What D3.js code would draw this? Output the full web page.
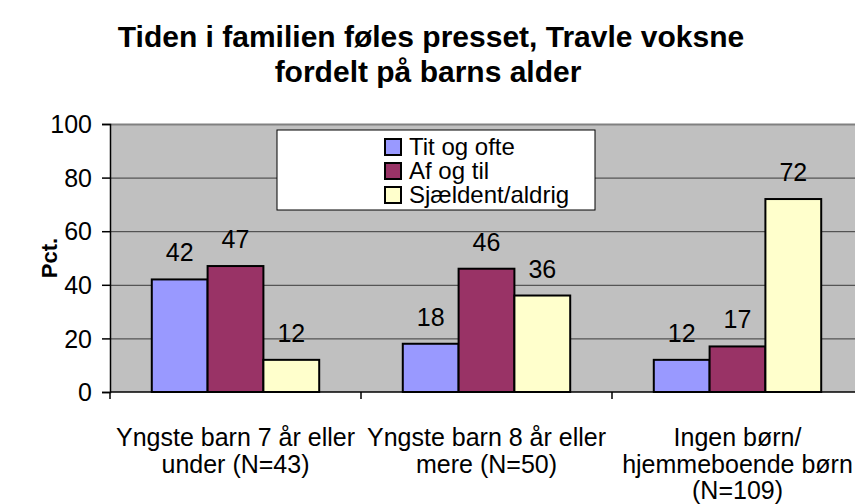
<!DOCTYPE html>
<html>
<head>
<meta charset="utf-8">
<script src="https://cdn.jsdelivr.net/npm/d3@7"></script>
<style>
  body { margin: 0; background: #fff; }
  svg { display: block; font-family: "Liberation Sans", Arial, sans-serif; }
</style>
</head>
<body>
<svg id="chart" width="855" height="504"></svg>
<script>
// chart data
const categories = [
  ["Yngste barn 7 år eller", "under (N=43)"],
  ["Yngste barn 8 år eller", "mere (N=50)"],
  ["Ingen børn/", "hjemmeboende børn", "(N=109)"]
]
const seriesNames = ["Tit og ofte", "Af og til", "Sjældent/aldrig"]
const titOgOfte = [42, 18, 12]
const afOgTil = [47, 46, 17]
const sjaeldent = [12, 36, 72]
const yTicks = [0, 20, 40, 60, 80, 100]
const colors = ["#9999ff", "#993366", "#ffffcc"]

const series = [titOgOfte, afOgTil, sjaeldent]

const margin = {top: 124, left: 110}
const plotW = 753   // runs past the right edge like the original
const plotH = 268

const svg = d3.select('#chart')

// title
const title = svg.append('g')
    .attr('font-weight', 'bold')
    .attr('font-size', 30)
    .attr('text-anchor', 'middle')
title.append('text').attr('x', 431).attr('y', 47).text("Tiden i familien føles presset, Travle voksne")
title.append('text').attr('x', 428).attr('y', 82).text("fordelt på barns alder")

const g = svg.append('g').attr('transform', 'translate(' + margin.left + ',' + margin.top + ')')

const x0 = d3.scaleBand()
    .domain(d3.range(categories.length))
    .range([0, plotW])

const x1 = d3.scaleBand()
    .domain(d3.range(series.length))
    .range([0, x0.bandwidth() * 0.667])

const y = d3.scaleLinear()
    .domain([0, 100])
    .range([plotH, 0])

// plot area
g.append('rect')
    .attr('width', plotW)
    .attr('height', plotH)
    .attr('fill', '#c0c0c0')

// gridlines
g.append('g')
    .selectAll('line')
    .data(yTicks.slice(1))
    .join('line')
    .attr('x1', 0)
    .attr('x2', plotW)
    .attr('y1', d => y(d) + 0.5)
    .attr('y2', d => y(d) + 0.5)
    .attr('stroke', d => d === 100 ? '#808080' : '#3a3a3a')
    .attr('stroke-width', d => d === 100 ? 2 : 1)

// bars
const groupOffset = (x0.bandwidth() - x1.range()[1]) / 2
series.forEach((vals, si) => {
    g.append('g')
        .selectAll('rect')
        .data(vals)
        .join('rect')
        .attr('x', (d, i) => x0(i) + groupOffset + x1(si))
        .attr('y', d => y(d))
        .attr('width', x1.bandwidth())
        .attr('height', d => y(0) - y(d))
        .attr('fill', colors[si])
        .attr('stroke', '#000')
        .attr('stroke-width', 2)

    g.append('g')
        .selectAll('text')
        .data(vals)
        .join('text')
        .attr('x', (d, i) => x0(i) + groupOffset + x1(si) + x1.bandwidth() / 2)
        .attr('y', d => y(d) - 18)
        .attr('text-anchor', 'middle')
        .attr('font-size', 25)
        .attr('fill', '#000')
        .text(d => d)
})

// y axis
const yAxis = g.append('g')
    .call(d3.axisLeft(y).tickValues(yTicks).tickSize(8).tickPadding(10))
yAxis.select('.domain').attr('stroke', '#000').attr('stroke-width', 1.5)
yAxis.selectAll('.tick line').attr('stroke', '#000').attr('stroke-width', 1.5)
yAxis.selectAll('.tick text')
    .attr('font-size', 25)
    .attr('font-family', '"Liberation Sans", Arial, sans-serif')
    .attr('fill', '#000')
    .attr('dy', '0.35em')

// x axis with ticks between categories
const xAxis = g.append('g')
    .attr('transform', 'translate(0,' + plotH + ')')
xAxis.append('line')
    .attr('x1', 0).attr('x2', plotW)
    .attr('stroke', '#000').attr('stroke-width', 1.5)
xAxis.selectAll('.sep')
    .data(d3.range(categories.length + 1))
    .join('line')
    .attr('class', 'sep')
    .attr('x1', i => i * x0.step())
    .attr('x2', i => i * x0.step())
    .attr('y1', 0).attr('y2', 7)
    .attr('stroke', '#000').attr('stroke-width', 1.5)

// category labels
const labels = xAxis.selectAll('.cat')
    .data(categories)
    .join('text')
    .attr('class', 'cat')
    .attr('text-anchor', 'middle')
    .attr('font-size', 25)
    .attr('fill', '#000')
    .attr('transform', (d, i) => 'translate(' + (x0(i) + x0.bandwidth() / 2) + ',54)')
labels.selectAll('tspan')
    .data(d => d)
    .join('tspan')
    .attr('x', 0)
    .attr('y', (d, i) => i * 26.5)
    .text(d => d)

// y axis label
svg.append('text')
    .attr('transform', 'translate(57,258) rotate(-90)')
    .attr('text-anchor', 'middle')
    .attr('font-weight', 'bold')
    .attr('font-size', 22)
    .text("Pct.")

// legend
const legend = svg.append('g').attr('transform', 'translate(277,130)')
legend.append('rect')
    .attr('width', 318)
    .attr('height', 80)
    .attr('fill', '#fff')
    .attr('stroke', '#000')
    .attr('stroke-width', 1)
const items = legend.selectAll('.item')
    .data(seriesNames)
    .join('g')
    .attr('class', 'item')
    .attr('transform', (d, i) => 'translate(108,' + (17 + i * 24) + ')')
items.append('rect')
    .attr('x', 0).attr('y', -8)
    .attr('width', 16).attr('height', 16)
    .attr('fill', (d, i) => colors[i])
    .attr('stroke', '#000')
    .attr('stroke-width', 2)
items.append('text')
    .attr('x', 24)
    .attr('dy', '0.35em')
    .attr('font-size', 24)
    .text(d => d)
</script>
</body>
</html>
